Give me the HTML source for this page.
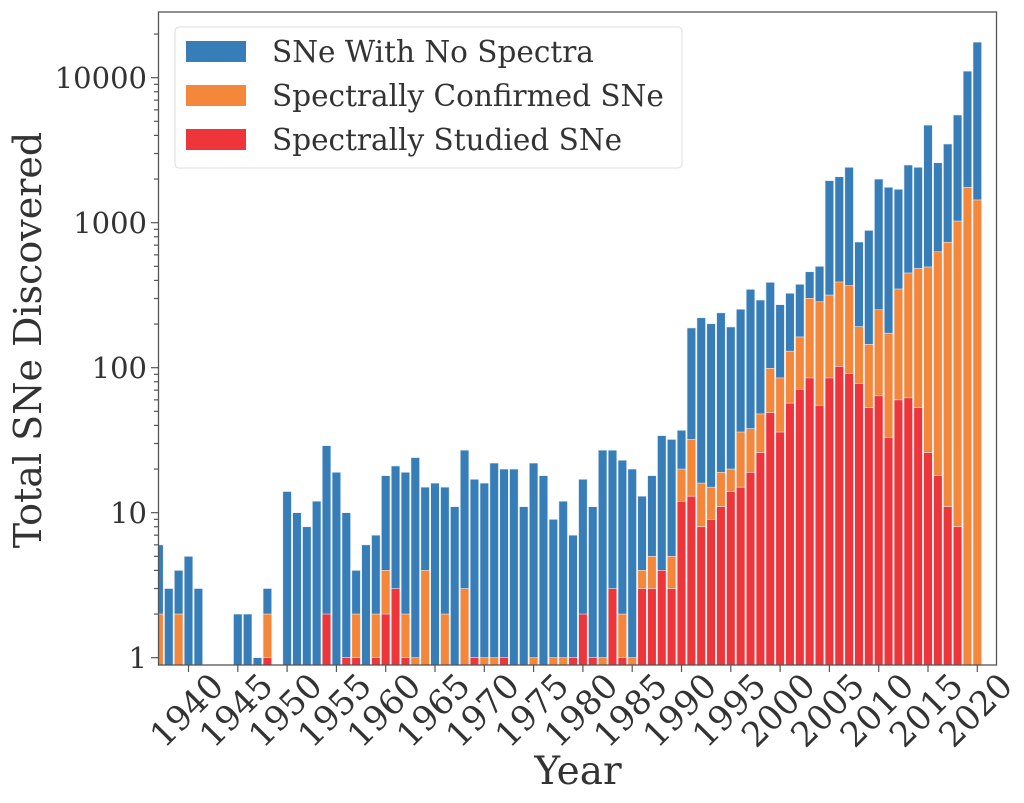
<!DOCTYPE html>
<html><head><meta charset="utf-8">
<style>
body{margin:0;background:#fff;}
svg{display:block;font-family:"DejaVu Serif","Liberation Serif",serif;}
</style></head>
<body>
<svg id="chart" width="1024" height="803" viewBox="0 0 1024 803" xmlns="http://www.w3.org/2000/svg">
<rect x="0" y="0" width="1024" height="803" fill="#fff"/>
<g id="bars"></g>
<g id="axes"></g>
<rect x="158.5" y="12" width="838" height="653" fill="none" stroke="#555" stroke-width="1.3"/>
<text x="578" y="784" font-size="39" fill="#333" text-anchor="middle">Year</text>
<text transform="translate(41,340) rotate(-90)" font-size="38" fill="#333" text-anchor="middle">Total SNe Discovered</text>
<g>
<rect x="175" y="27" width="507" height="141" rx="4" fill="#fff" stroke="#ddd" stroke-width="1"/>
<g>
<rect x="186" y="41" width="60" height="21" fill="#377eb8"/>
<text x="272" y="62" font-size="29.5" fill="#333">SNe With No Spectra</text></g>
<g>
<rect x="186" y="85" width="60" height="21" fill="#f5873a"/>
<text x="272" y="106" font-size="29.5" fill="#333">Spectrally Confirmed SNe</text></g>
<g>
<rect x="186" y="129" width="60" height="21" fill="#ee3539"/>
<text x="272" y="150" font-size="29.5" fill="#333">Spectrally Studied SNe</text></g>
</g>
</svg>
<script>
const years = [];
for (let y = 1937; y <= 2020; y++) years.push(y);
const totals = [6,3,4,5,3,0,0,0,2,2,1,3,0,14,10,8,12,29,19,10,4,6,7,18,21,19,24,15,16,15,11,27,17,16,22,20,20,11,22,18,9,12,7,17,11,27,27,23,20,13,18,34,32,37,188,221,201,239,191,253,347,293,388,272,326,376,459,500,1950,2075,2410,736,885,2000,1755,1700,2500,2410,4710,2590,3490,5530,11100,17600];
const confirmed = [2,0,2,0,0,0,0,0,0,0,0,2,0,0,0,0,0,0,0,0,2,0,2,4,0,2,1,4,0,2,0,3,0,1,1,0,0,0,1,0,1,1,0,0,0,1,0,2,1,4,5,0,5,20,32,16,15,19,20,36,38,48,99,85,130,163,301,285,317,390,368,192,145,251,173,349,450,484,495,630,733,1027,1755,1435];
const studied = [0,0,0,0,0,0,0,0,0,0,0,1,0,0,0,0,0,2,0,1,1,0,1,2,3,1,0,0,0,0,0,0,1,0,0,1,0,0,0,0,0,0,1,2,1,0,3,1,0,3,3,4,3,12,13,8,9,11,14,15,19,26,49,36,57,71,85,55,85,102,91,78,53,64,33,60,62,53,26,18,11,8,0,0];
const yTickVals = [1,10,100,1000,10000];
const yTickLabels = ["1","10","100","1000","10000"];
const xTickYears = [1940,1945,1950,1955,1960,1965,1970,1975,1980,1985,1990,1995,2000,2005,2010,2015,2020];

const NS = "http://www.w3.org/2000/svg";
const xs = yr => 188.5 + (yr - 1940) * 9.86;
const ys = v => 657.7 - 145 * Math.log10(v);
const bottom = 665;
const bw = 8.6;
const bars = document.getElementById('bars');
const axes = document.getElementById('axes');

function bar(i, v, color, nm) {
  if (!(v > 0)) return;
  const r = document.createElementNS(NS, 'rect');
  let x0 = xs(years[i]) - bw / 2, x1 = x0 + bw;
  if (x0 < 158.5) x0 = 158.5;
  r.setAttribute('x', x0);
  r.setAttribute('width', x1 - x0);
  r.setAttribute('y', ys(v));
  r.setAttribute('height', bottom - ys(v));
  r.setAttribute('fill', color);
  r.setAttribute('stroke', '#e6ecf5');
  r.setAttribute('stroke-width', '0.6');
  
  
  bars.appendChild(r);
}
for (let i = 0; i < years.length; i++) {
  bar(i, totals[i], '#377eb8', 'bar-total');
  bar(i, confirmed[i], '#f5873a', 'bar-confirmed');
  bar(i, studied[i], '#ee3539', 'bar-studied');
}

function line(x1, y1, x2, y2, nm) {
  const l = document.createElementNS(NS, 'line');
  l.setAttribute('x1', x1); l.setAttribute('y1', y1);
  l.setAttribute('x2', x2); l.setAttribute('y2', y2);
  l.setAttribute('stroke', '#555'); l.setAttribute('stroke-width', '1.2');
  
  
  axes.appendChild(l);
}
yTickVals.forEach((v, k) => {
  const y = ys(v);
  line(151, y, 158.5, y, 'y-major-tick');
  const t = document.createElementNS(NS, 'text');
  t.setAttribute('x', 147); t.setAttribute('y', y + 10.5);
  t.setAttribute('font-size', '29'); t.setAttribute('fill', '#333');
  t.setAttribute('text-anchor', 'end');
  
  
  t.textContent = yTickLabels[k];
  axes.appendChild(t);
});
for (let d = 0; d < 5; d++) {
  for (let m = 2; m <= 9; m++) {
    const y = ys(m * Math.pow(10, d));
    if (y < 12) continue;
    line(154, y, 158.5, y, 'y-minor-tick');
  }
}
xTickYears.forEach(yr => {
  const x = xs(yr);
  line(x, 665, x, 672, 'x-tick');
  const t = document.createElementNS(NS, 'text');
  t.setAttribute('transform', 'translate(' + (x - 2) + ',710) rotate(-45)');
  t.setAttribute('y', '12');
  t.setAttribute('font-size', '34'); t.setAttribute('fill', '#333');
  t.setAttribute('text-anchor', 'middle');
  
  
  t.textContent = yr;
  axes.appendChild(t);
});
</script>
</body></html>
